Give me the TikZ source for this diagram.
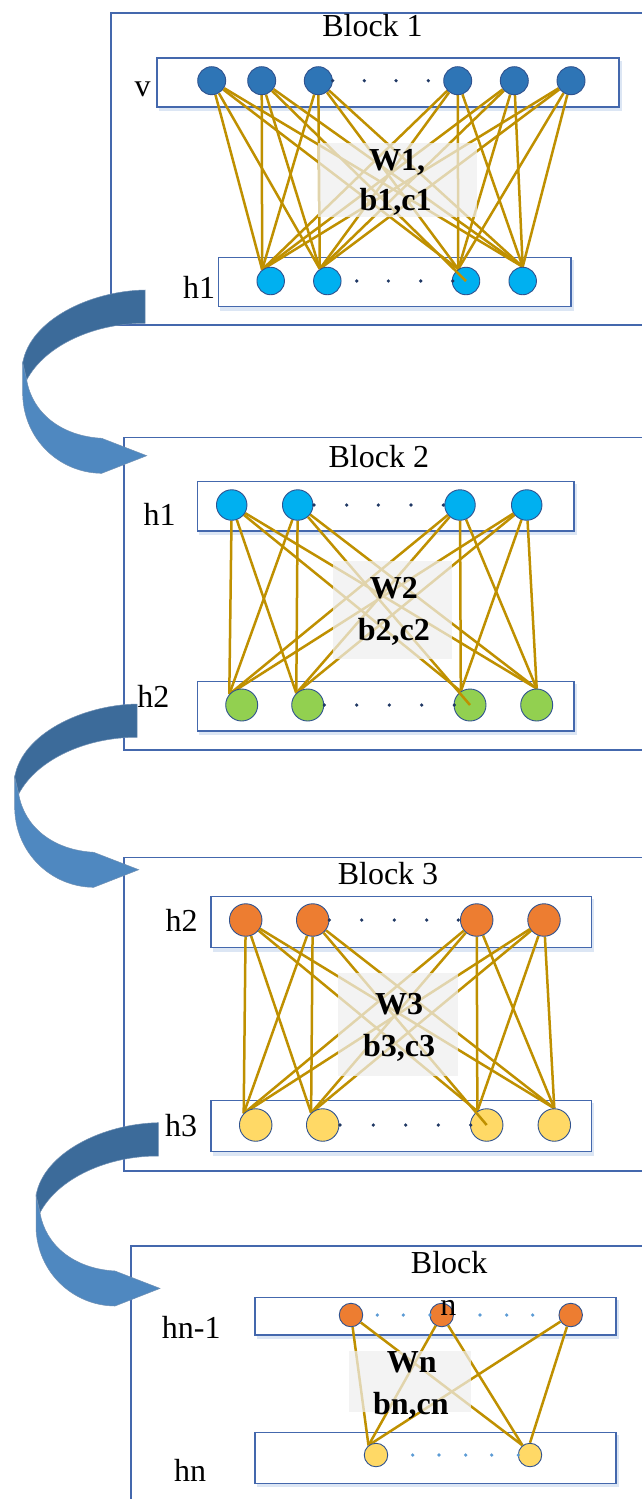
\documentclass[tikz,border=0pt]{standalone}
\usepackage{fontspec}
\setmainfont{Liberation Serif}
\pgfdeclarelayer{bgrect}
\pgfdeclarelayer{bglink}
\pgfdeclarelayer{fg}
\pgfsetlayers{bgrect,bglink,main,fg}
\definecolor{blkbord}{HTML}{4468AD}
\definecolor{rowbord}{HTML}{4468AD}
\definecolor{nodebord}{HTML}{2F528F}
\definecolor{linkc}{HTML}{BF9000}
\definecolor{wgray}{HTML}{EFEFEF}
\definecolor{vblue}{HTML}{2E75B6}
\definecolor{hcyan}{HTML}{00B0F0}
\definecolor{hgreen}{HTML}{92D050}
\definecolor{horange}{HTML}{ED7D31}
\definecolor{hyellow}{HTML}{FFD966}
\definecolor{dotdark}{HTML}{1F3864}
\definecolor{dotlight}{HTML}{5B9BD5}
\definecolor{arrdark}{HTML}{3C6B9A}
\definecolor{arrlight}{HTML}{4F88C0}
\definecolor{arredge}{HTML}{6F8FB3}
\definecolor{glow}{HTML}{DCE6F4}
\begin{document}
\begin{tikzpicture}[x=1pt,y=-1pt,
  blockbox/.style={draw=blkbord, line width=1.3pt},
  rowbox/.style={draw=rowbord, line width=1.4pt, fill=white},
  unit/.style={circle, draw=nodebord, line width=0.9pt, inner sep=0pt},
  link/.style={draw=linkc, line width=2.5pt},
  wbox/.style={fill=wgray, fill opacity=0.72},
  lbl/.style={font=\fontsize{32}{38}\selectfont, anchor=base, inner sep=0pt},
  wlbl/.style={font=\fontsize{32}{38}\selectfont\bfseries, anchor=base, inner sep=0pt},
  dotd/.style={circle, fill=dotdark, inner sep=0pt, minimum size=3.6pt},
  dotl/.style={circle, fill=dotlight, inner sep=0pt, minimum size=3.6pt},
  curlarrow/.pic={
    \fill[arrdark, draw=arredge, line width=0.5pt]
      (145,290) .. controls (90,291) and (30,320) .. (22.7,363)
      -- (26.7,380) .. controls (45,345) and (95,323) .. (145,323.3) -- cycle;
    \fill[arrlight, draw=arredge, line width=0.5pt]
      (22.7,363) -- (22.7,395) .. controls (24,440) and (60,473) .. (101.7,473.3)
      -- (146.7,455.7) -- (101.7,438.3)
      .. controls (60,436) and (32,412) .. (26.7,380) -- cycle;
  }]
\useasboundingbox (0,0) rectangle (641,1499);
\clip (0,0) rectangle (641,1499);

% ---------------- rectangles
\begin{pgfonlayer}{bgrect}
\fill[white] (0,0) rectangle (641,1499);
\foreach \xa/\ya/\xb/\yb in {157/58/619/107, 218.3/257.3/571/306.7,
    197.3/481.7/574/531, 197.3/681.7/574/731,
    211/896.7/591.7/947.7, 211/1100.7/591.7/1151.7,
    255/1297.3/616/1335, 255/1432.3/616/1483.3}
  \fill[glow] (\xa+1.5,\ya+2.5) rectangle (\xb+2.5,\yb+4);
\draw[blockbox] (111,13) rectangle (660,325);
\draw[rowbox] (157,58) rectangle (619,107);
\draw[rowbox] (218.3,257.3) rectangle (571,306.7);
\draw[blockbox] (124,437.3) rectangle (660,750);
\draw[rowbox] (197.3,481.7) rectangle (574,531);
\draw[rowbox] (197.3,681.7) rectangle (574,731);
\draw[blockbox] (124,857.3) rectangle (660,1171);
\draw[rowbox] (211,896.7) rectangle (591.7,947.7);
\draw[rowbox] (211,1100.7) rectangle (591.7,1151.7);
\draw[blockbox] (131,1246) rectangle (660,1520);
\draw[rowbox] (255,1297.3) rectangle (616,1335);
\draw[rowbox] (255,1432.3) rectangle (616,1483.3);
\end{pgfonlayer}

% ---------------- Block 1 units
\foreach \n/\x in {a1/211.7,a2/261.7,a3/318.3,a4/457.7,a5/514.3,a6/571}
  \node[unit, fill=vblue, minimum size=28pt] (\n) at (\x,80.7) {};
\foreach \n/\x in {b1/270.7,b2/327.3,b3/466,b4/522.7}
  \node[unit, fill=hcyan, minimum size=27.5pt] (\n) at (\x,281) {};
\foreach \x [count=\i] in {332.7,364.3,396,428.3}
  \node[dotd] (da\i) at (\x,80.7) {};
\foreach \x [count=\i] in {356.7,388.3,420.7,452.7}
  \node[dotd] (db\i) at (\x,281) {};
\begin{pgfonlayer}{bglink}
\foreach \t in {a1,a2,a3,a4,a5,a6}{
  \draw[link] (\t) -- (b1.127);
  \draw[link] (\t) -- (b2.122);
  \draw[link] (\t) -- (b4.90);
}
\foreach \t in {a1,a3,a4,a5,a6}
  \draw[link] (\t) -- (b3.123);
\end{pgfonlayer}
\draw[link] (a2) -- (b3.center);

% ---------------- Block 2 units
\foreach \n/\x in {c1/231.7,c2/297.7,c3/460,c4/526.7}
  \node[unit, fill=hcyan, minimum size=30.5pt] (\n) at (\x,505) {};
\foreach \n/\x in {d1/241.7,d2/307.7,d3/470,d4/536.7}
  \node[unit, fill=hgreen, minimum size=32pt] (\n) at (\x,705) {};
\foreach \x [count=\i] in {314,346.7,378.3,411,443.3}
  \node[dotd] (dc\i) at (\x,505) {};
\foreach \x [count=\i] in {324.3,356.7,389.3,421.7,454.3}
  \node[dotd] (dd\i) at (\x,705) {};
\begin{pgfonlayer}{bglink}
\foreach \t in {c1,c2,c3,c4}{
  \draw[link] (\t) -- (d1.139);
  \draw[link] (\t) -- (d2.134);
  \draw[link] (\t) -- (d4.90);
}
\foreach \t in {c1,c3,c4}
  \draw[link] (\t) -- (d3.124);
\end{pgfonlayer}
\draw[link] (c2) -- (d3.center);

% ---------------- Block 3 units
\foreach \n/\x in {e1/245.7,e2/312.7,e3/476.7,e4/544}
  \node[unit, fill=horange, minimum size=32.5pt] (\n) at (\x,920) {};
\foreach \n/\x in {f1/255.7,f2/322.7,f3/486.7,f4/554.3}
  \node[unit, fill=hyellow, minimum size=32.5pt] (\n) at (\x,1125) {};
\foreach \x [count=\i] in {329.3,361.7,394.3,426.7,458.3}
  \node[dotd] (de\i) at (\x,920) {};
\foreach \x [count=\i] in {340,373.3,405.7,438.3,470.7}
  \node[dotd] (df\i) at (\x,1125) {};
\begin{pgfonlayer}{bglink}
\foreach \t in {e1,e2,e3,e4}{
  \draw[link] (\t) -- (f1.136);
  \draw[link] (\t) -- (f2.134);
  \draw[link] (\t) -- (f4.90);
}
\foreach \t in {e1,e3,e4}
  \draw[link] (\t) -- (f3.124);
\end{pgfonlayer}
\draw[link] (e2) -- (f3.center);

% ---------------- Block n units
\foreach \n/\x in {g1/351,g2/441.7,g3/570.7}
  \node[unit, fill=horange, minimum size=23.5pt] (\n) at (\x,1315) {};
\foreach \n/\x in {k1/376,k2/530}
  \node[unit, fill=hyellow, minimum size=23.5pt] (\n) at (\x,1455) {};
\foreach \x [count=\i] in {377.3,403.3,430,480,506.7,532.7}
  \node[dotl] (dg\i) at (\x,1315) {};
\foreach \x [count=\i] in {412.7,439,465.7,491.7,518.3}
  \node[dotl] (dk\i) at (\x,1455) {};
\begin{pgfonlayer}{bglink}
\draw[link] (g1) -- (k1.128);
\draw[link] (g1) -- (k2.128);
\draw[link] (g2) -- (k1.128);
\draw[link] (g2) -- (k2.128);
\draw[link] (g3) -- (k1.121);
\draw[link] (g3) -- (k2.90);
\end{pgfonlayer}

% ---------------- weight boxes and texts
\begin{pgfonlayer}{fg}
\fill[wbox] (318.3,143.3) rectangle (476.7,217.3);
\fill[wbox] (333.3,561) rectangle (451.7,659);
\fill[wbox] (338.3,972.7) rectangle (458.3,1075.7);
\fill[wbox] (349,1351) rectangle (471,1411.7);

\node[wlbl] (w1) at (397.2,170) {W1,};
\node[wlbl] (bc1) at (395.5,210.7) {b1,c1};
\node[wlbl] (w2) at (393.8,598.3) {W2};
\node[wlbl] (bc2) at (393.8,640.7) {b2,c2};
\node[wlbl] (w3) at (399.2,1014) {W3};
\node[wlbl] (bc3) at (399.2,1056) {b3,c3};
\node[wlbl] (wn) at (411.7,1372.3) {Wn};
\node[wlbl] (bcn) at (410.8,1414) {bn,cn};

\node[lbl] (t1) at (372.5,36) {Block 1};
\node[lbl] (t2) at (378.8,467.3) {Block 2};
\node[lbl] (t3) at (388,884.3) {Block 3};
\node[lbl] (tn) at (449.2,1273.3) {Block};
\node[lbl] (tnn) at (448.3,1315) {n};

\node[lbl] (lv) at (142.5,96.7) {v};
\node[lbl] (lh1a) at (199.2,298.3) {h1};
\node[lbl] (lh1b) at (159.7,525) {h1};
\node[lbl] (lh2a) at (153.3,707.3) {h2};
\node[lbl] (lh2b) at (181.7,931.7) {h2};
\node[lbl] (lh3) at (181.2,1136.7) {h3};
\node[lbl] (lhn1) at (191.3,1338.3) {hn-1};
\node[lbl] (lhn) at (190,1481.7) {hn};

\pic at (0,0) {curlarrow};
\pic at (-8,414) {curlarrow};
\pic at (13.3,832.7) {curlarrow};
\end{pgfonlayer}
\end{tikzpicture}
\end{document}
